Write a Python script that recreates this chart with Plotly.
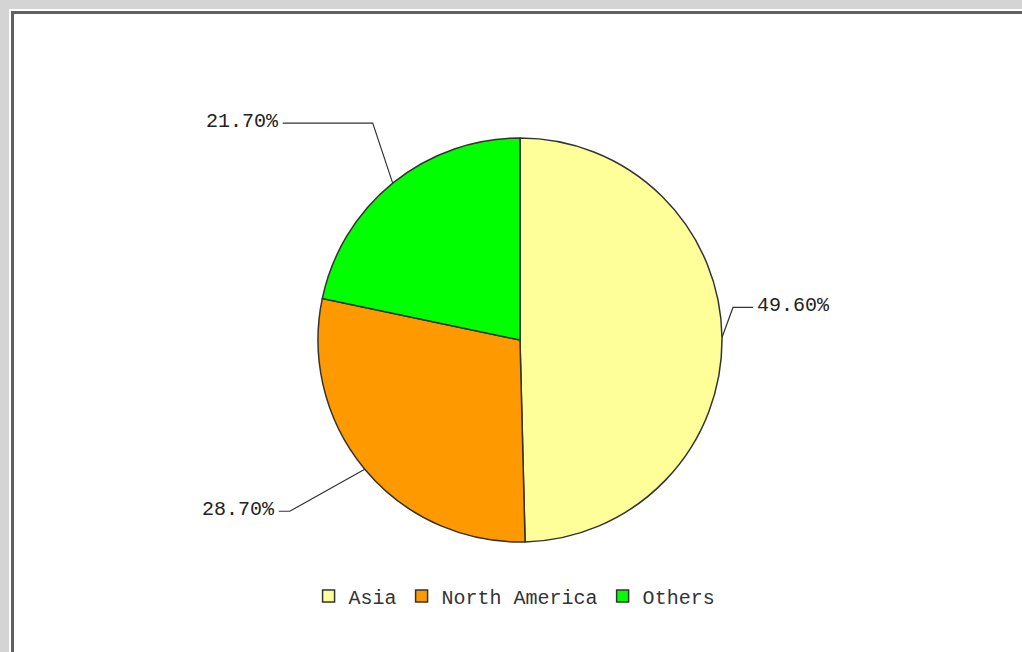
import math
import plotly.graph_objects as go

# Regional share data
regions = ["Asia", "North America", "Others"]
shares = [49.6, 28.7, 21.7]
slice_colors = ["#FFFF99", "#FF9900", "#00FF00"]

W, H = 1022, 652
CX, CY, R = 520, 340, 202  # pie centre and radius in pixels (y down)

# Leader line layout per slice: elbow offset from the rim point and the horizontal tail
leader_elbow = [(11, -30), (-75, 42), (-20, -60)]
leader_tail = [20, -11, -90]

fig = go.Figure()

# Frame around the chart area
px = lambda v: v / W
py = lambda v: 1 - v / H
fig.add_shape(type="rect", xref="paper", yref="paper",
              x0=px(9), x1=px(W + 20), y0=py(H + 20), y1=py(9),
              fillcolor="white", line=dict(width=0), layer="below")
fig.add_shape(type="rect", xref="paper", yref="paper",
              x0=px(12.5), x1=px(W + 20), y0=py(H + 20), y1=py(12.5),
              fillcolor="white", line=dict(color="#606060", width=3), layer="below")

fig.add_trace(go.Pie(
    labels=regions, values=shares, sort=False, direction="clockwise", rotation=0,
    marker=dict(colors=slice_colors, line=dict(color="#333333", width=1.5)),
    textinfo="none", hoverinfo="skip",
    domain=dict(x=[(CX - R) / W, (CX + R) / W], y=[(H - CY - R) / H, (H - CY + R) / H]),
))

# Leader lines and percentage labels, placed from each slice's mid-angle
total = sum(shares)
acc = 0.0
annotations = []
for i, v in enumerate(shares):
    mid = (acc + v / 2) / total * 2 * math.pi
    acc += v
    ex = CX + R * math.sin(mid)
    ey = CY - R * math.cos(mid)
    bx = ex + leader_elbow[i][0]
    by = ey + leader_elbow[i][1]
    tx = bx + leader_tail[i]
    fig.add_trace(go.Scatter(
        x=[ex, bx, tx], y=[ey, by, by], mode="lines",
        line=dict(color="#333333", width=1.2), showlegend=False, hoverinfo="skip",
    ))
    right = leader_tail[i] > 0
    annotations.append(dict(
        x=tx + (2 if right else -2), y=by - 2, xref="x", yref="y",
        text=f"{v:.2f}%", showarrow=False,
        xanchor="left" if right else "right", yanchor="middle",
        font=dict(family="Liberation Mono", size=20, color="#222222"),
    ))

fig.update_layout(
    width=W, height=H, margin=dict(l=0, r=0, t=0, b=0),
    paper_bgcolor="#d4d4d4", plot_bgcolor="rgba(0,0,0,0)",
    xaxis=dict(range=[0, W], visible=False, fixedrange=True),
    yaxis=dict(range=[H, 0], visible=False, fixedrange=True),
    annotations=annotations,
    showlegend=True,
    legend=dict(orientation="h", x=0.5035, xanchor="center", y=0.086, yanchor="middle",
                font=dict(family="Liberation Mono", size=20, color="#333333"),
                bgcolor="rgba(0,0,0,0)"),
)

fig.write_html("out.html")
